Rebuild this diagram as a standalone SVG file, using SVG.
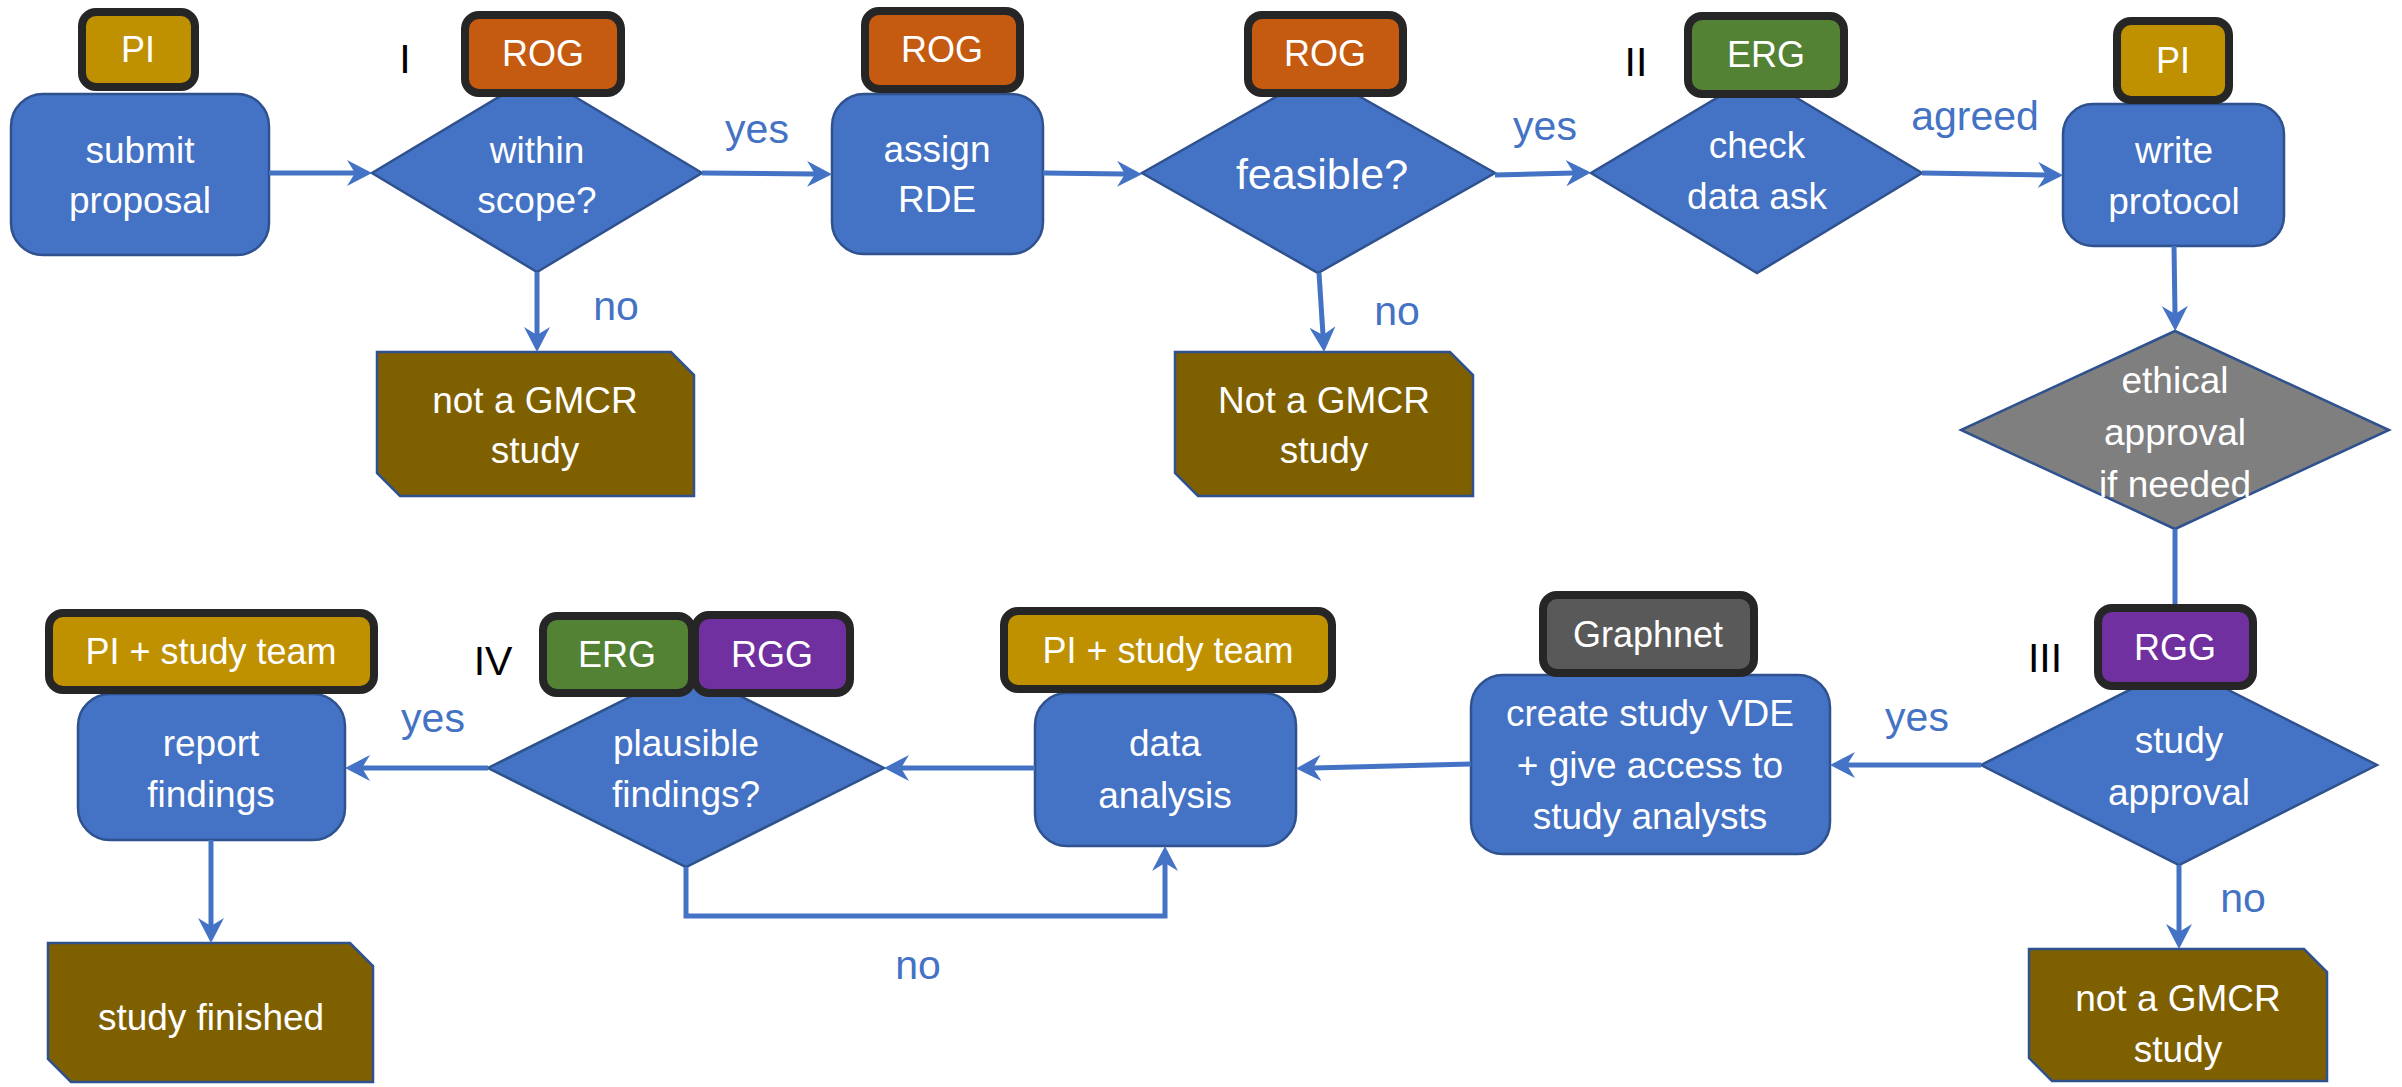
<svg xmlns="http://www.w3.org/2000/svg" width="2402" height="1087" viewBox="0 0 2402 1087">
<defs>
<style>
text{font-family:"Liberation Sans",Arial,sans-serif;text-anchor:middle}
.proc{fill:#4472C4;stroke:#2F528F;stroke-width:2.5}
.dec{fill:#4472C4;stroke:#2F528F;stroke-width:2.5}
.gray{fill:#7F7F7F;stroke:#2F528F;stroke-width:2.5}
.end{fill:#7F6000;stroke:#2F528F;stroke-width:2.5}
.badge{stroke:#262626;stroke-width:8}
.pi{fill:#BF9000}.rog{fill:#C55A11}.erg{fill:#548235}.rgg{fill:#7030A0}.gn{fill:#595959}
.t{fill:#FFFFFF;font-size:37px}
.bt{fill:#FFFFFF;font-size:36px}
.lbl{fill:#4472C4;font-size:41px}
.num{fill:#000000;font-size:41px}
.conn{fill:none;stroke:#4472C4;stroke-width:5}
</style>
<marker id="arr" viewBox="0 0 25 26" refX="8" refY="13" markerWidth="25" markerHeight="26" markerUnits="userSpaceOnUse" orient="auto">
<path d="M0,0 L25,13 L0,26 L8,13 Z" fill="#4472C4"/>
</marker>
</defs>
<rect width="2402" height="1087" fill="#FFFFFF"/>

<g id="n-submit">
<rect class="proc" x="11" y="94" width="258" height="161" rx="32"/>
<text class="t" x="140" y="163">submit</text>
<text class="t" x="140" y="213">proposal</text>
<rect class="badge pi" x="82" y="12" width="113" height="75" rx="14"/>
<text class="bt" x="138" y="62">PI</text>
</g>

<g id="n-scope">
<polygon class="dec" points="537,74 702,173 537,272 372,173"/>
<text class="t" x="537" y="163">within</text>
<text class="t" x="537" y="213">scope?</text>
<rect class="badge rog" x="465" y="15" width="156" height="78" rx="14"/>
<text class="bt" x="543" y="66">ROG</text>
<text class="num" x="405" y="73">I</text>
</g>

<g id="n-notgmcr1">
<polygon class="end" points="377,352 671,352 694,375 694,496 400,496 377,473"/>
<text class="t" x="535" y="413">not a GMCR</text>
<text class="t" x="535" y="463">study</text>
</g>

<g id="n-assign">
<rect class="proc" x="832" y="94" width="211" height="160" rx="32"/>
<text class="t" x="937" y="162">assign</text>
<text class="t" x="937" y="212">RDE</text>
<rect class="badge rog" x="865" y="11" width="155" height="78" rx="14"/>
<text class="bt" x="942" y="62">ROG</text>
</g>

<g id="n-feasible">
<polygon class="dec" points="1318,73 1495,173 1318,273 1142,173"/>
<text class="t" x="1322" y="189" style="font-size:43px">feasible?</text>
<rect class="badge rog" x="1248" y="15" width="155" height="78" rx="14"/>
<text class="bt" x="1325" y="66">ROG</text>
</g>

<g id="n-notgmcr2">
<polygon class="end" points="1175,352 1450,352 1473,375 1473,496 1198,496 1175,473"/>
<text class="t" x="1324" y="413">Not a GMCR</text>
<text class="t" x="1324" y="463">study</text>
</g>

<g id="n-check">
<polygon class="dec" points="1757,74 1922,173 1757,273 1591,173"/>
<text class="t" x="1757" y="158">check</text>
<text class="t" x="1757" y="209">data ask</text>
<rect class="badge erg" x="1688" y="16" width="156" height="78" rx="14"/>
<text class="bt" x="1766" y="67">ERG</text>
<text class="num" x="1636" y="76">II</text>
</g>

<g id="n-protocol">
<rect class="proc" x="2063" y="104" width="221" height="142" rx="30"/>
<text class="t" x="2174" y="163">write</text>
<text class="t" x="2174" y="214">protocol</text>
<rect class="badge pi" x="2117" y="21" width="112" height="79" rx="14"/>
<text class="bt" x="2173" y="73">PI</text>
</g>

<g id="n-ethical">
<polygon class="gray" points="2175,331 2389,430 2175,529 1961,430"/>
<text class="t" x="2175" y="393">ethical</text>
<text class="t" x="2175" y="445">approval</text>
<text class="t" x="2175" y="497">if needed</text>
</g>

<g id="n-approval">
<polygon class="dec" points="2179,665 2377,765 2179,865 1981,765"/>
<text class="t" x="2179" y="753">study</text>
<text class="t" x="2179" y="805">approval</text>
<rect class="badge rgg" x="2098" y="608" width="155" height="78" rx="14"/>
<text class="bt" x="2175" y="660">RGG</text>
<text class="num" x="2045" y="672">III</text>
</g>

<g id="n-notgmcr3">
<polygon class="end" points="2029,949 2304,949 2327,972 2327,1081 2052,1081 2029,1058"/>
<text class="t" x="2178" y="1011">not a GMCR</text>
<text class="t" x="2178" y="1062">study</text>
</g>

<g id="n-create">
<rect class="proc" x="1471" y="675" width="359" height="179" rx="32"/>
<text class="t" x="1650" y="726">create study VDE</text>
<text class="t" x="1650" y="778">+ give access to</text>
<text class="t" x="1650" y="829">study analysts</text>
<rect class="badge gn" x="1543" y="595" width="211" height="78" rx="14"/>
<text class="bt" x="1648" y="647">Graphnet</text>
</g>

<g id="n-analysis">
<rect class="proc" x="1035" y="693" width="261" height="153" rx="32"/>
<text class="t" x="1165" y="756">data</text>
<text class="t" x="1165" y="808">analysis</text>
<rect class="badge pi" x="1004" y="611" width="328" height="78" rx="14"/>
<text class="bt" x="1168" y="663">PI + study team</text>
</g>

<g id="n-plausible">
<polygon class="dec" points="686,669 884,768 686,867 488,768"/>
<text class="t" x="686" y="756">plausible</text>
<text class="t" x="686" y="807">findings?</text>
<rect class="badge erg" x="543" y="616" width="149" height="77" rx="14"/>
<text class="bt" x="617" y="667">ERG</text>
<rect class="badge rgg" x="695" y="615" width="155" height="78" rx="14"/>
<text class="bt" x="772" y="667">RGG</text>
<text class="num" x="493" y="675">IV</text>
</g>

<g id="n-report">
<rect class="proc" x="78" y="694" width="267" height="146" rx="32"/>
<text class="t" x="211" y="756">report</text>
<text class="t" x="211" y="807">findings</text>
<rect class="badge pi" x="49" y="613" width="325" height="77" rx="14"/>
<text class="bt" x="211" y="664">PI + study team</text>
</g>

<g id="n-finished">
<polygon class="end" points="48,943 350,943 373,966 373,1082 71,1082 48,1059"/>
<text class="t" x="211" y="1030">study finished</text>
</g>

<g id="connectors">
<line class="conn" x1="269" y1="173" x2="355" y2="173" marker-end="url(#arr)"/>
<line class="conn" x1="702" y1="173" x2="815" y2="174" marker-end="url(#arr)"/>
<line class="conn" x1="537" y1="272" x2="537" y2="335" marker-end="url(#arr)"/>
<line class="conn" x1="1043" y1="173" x2="1125" y2="174" marker-end="url(#arr)"/>
<line class="conn" x1="1319" y1="273" x2="1323" y2="335" marker-end="url(#arr)"/>
<line class="conn" x1="1495" y1="175" x2="1574" y2="173" marker-end="url(#arr)"/>
<line class="conn" x1="1922" y1="173" x2="2046" y2="175" marker-end="url(#arr)"/>
<line class="conn" x1="2174" y1="246" x2="2175" y2="314" marker-end="url(#arr)"/>
<line class="conn" x1="2175" y1="529" x2="2175" y2="604"/>
<line class="conn" x1="1981" y1="765" x2="1847" y2="765" marker-end="url(#arr)"/>
<line class="conn" x1="2179" y1="865" x2="2179" y2="932" marker-end="url(#arr)"/>
<line class="conn" x1="1471" y1="764" x2="1313" y2="768" marker-end="url(#arr)"/>
<line class="conn" x1="1035" y1="768" x2="901" y2="768" marker-end="url(#arr)"/>
<line class="conn" x1="488" y1="768" x2="362" y2="768" marker-end="url(#arr)"/>
<polyline class="conn" points="686,867 686,916 1165,916 1165,863" marker-end="url(#arr)"/>
<line class="conn" x1="211" y1="840" x2="211" y2="926" marker-end="url(#arr)"/>
<text class="lbl" x="757" y="143">yes</text>
<text class="lbl" x="616" y="320">no</text>
<text class="lbl" x="1545" y="140">yes</text>
<text class="lbl" x="1397" y="325">no</text>
<text class="lbl" x="1975" y="130">agreed</text>
<text class="lbl" x="1917" y="731">yes</text>
<text class="lbl" x="2243" y="912">no</text>
<text class="lbl" x="433" y="732">yes</text>
<text class="lbl" x="918" y="979">no</text>
</g>
</svg>
